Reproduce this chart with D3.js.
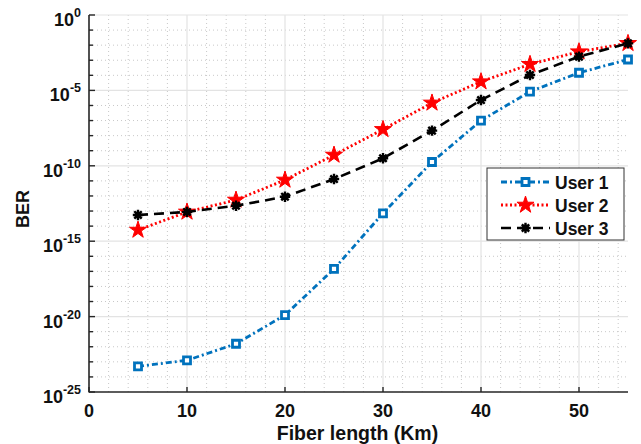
<!DOCTYPE html>
<html>
<head>
<meta charset="utf-8">
<script src="https://cdn.jsdelivr.net/npm/d3@7"></script>
<style>
  body { margin: 0; background: #fff; }
  svg { display: block; font-family: "Liberation Sans", Arial, sans-serif; font-weight: bold; }
</style>
</head>
<body>
<svg id="chart"></svg>
<script>
// data
const fiberLength = [5, 10, 15, 20, 25, 30, 35, 40, 45, 50, 55];
const user1 = [5.0e-24, 1.26e-23, 1.58e-22, 1.26e-20, 1.45e-17, 7.1e-14, 1.78e-10, 1.0e-7, 8.3e-6, 1.48e-4, 1.12e-3];
const user2 = [5.5e-15, 8.7e-14, 5.4e-13, 1.15e-11, 5.2e-10, 2.6e-8, 1.48e-6, 3.8e-5, 5.4e-4, 3.7e-3, 1.32e-2];
const user3 = [5.5e-14, 8.7e-14, 2.24e-13, 8.9e-13, 1.32e-11, 3.16e-10, 2.14e-8, 2.3e-6, 1.05e-4, 1.74e-3, 1.32e-2];
const seriesNames = ['User 1', 'User 2', 'User 3'];
const xTicks = [0, 10, 20, 30, 40, 50];
const yExponents = [0, -5, -10, -15, -20, -25];

const width = 641, height = 444;
const plotL = 89, plotR = 628, plotT = 15, plotB = 392;

let svg = d3.select('#chart').attr('width', width).attr('height', height);

let x = d3.scaleLinear().domain([0, 55]).range([plotL, plotR]);
let y = d3.scaleLog().domain([1e-25, 1]).range([plotB, plotT]);

// grid
let grid = svg.append('g');
let minorX = d3.range(2, 55, 2).filter(v => v % 10 !== 0);
let decades = d3.range(-25, 1);
grid.selectAll('.mx').data(minorX).enter().append('line')
    .attr('x1', d => x(d)).attr('x2', d => x(d))
    .attr('y1', plotT).attr('y2', plotB)
    .attr('stroke', '#c8c8c8').attr('stroke-width', 1).attr('stroke-dasharray', '1,3');
grid.selectAll('.my').data(decades.filter(d => d % 5 !== 0)).enter().append('line')
    .attr('x1', plotL).attr('x2', plotR)
    .attr('y1', d => y(Math.pow(10, d))).attr('y2', d => y(Math.pow(10, d)))
    .attr('stroke', '#c8c8c8').attr('stroke-width', 1).attr('stroke-dasharray', '1,3');
grid.selectAll('.Mx').data(xTicks.filter(d => d > 0)).enter().append('line')
    .attr('x1', d => x(d)).attr('x2', d => x(d))
    .attr('y1', plotT).attr('y2', plotB)
    .attr('stroke', '#e3e3e3').attr('stroke-width', 1.2);
grid.selectAll('.My').data(yExponents.filter(d => d > -25)).enter().append('line')
    .attr('x1', plotL).attr('x2', plotR)
    .attr('y1', d => y(Math.pow(10, d))).attr('y2', d => y(Math.pow(10, d)))
    .attr('stroke', '#e3e3e3').attr('stroke-width', 1.2);

// axes
let axisG = svg.append('g');
axisG.append('line').attr('x1', plotL).attr('x2', plotL).attr('y1', plotT).attr('y2', plotB + 0.5)
    .attr('stroke', '#262626').attr('stroke-width', 1.6);
axisG.append('line').attr('x1', plotL).attr('x2', plotR).attr('y1', plotB).attr('y2', plotB)
    .attr('stroke', '#262626').attr('stroke-width', 1.6);
axisG.selectAll('.yt').data(decades).enter().append('line')
    .attr('x1', plotL).attr('x2', d => plotL + (d % 5 === 0 ? 6 : 4))
    .attr('y1', d => y(Math.pow(10, d))).attr('y2', d => y(Math.pow(10, d)))
    .attr('stroke', '#262626').attr('stroke-width', 1.4);
axisG.selectAll('.xt').data(xTicks).enter().append('line')
    .attr('x1', d => x(d)).attr('x2', d => x(d))
    .attr('y1', plotB).attr('y2', plotB - 5)
    .attr('stroke', '#262626').attr('stroke-width', 1.4);

axisG.selectAll('.xl').data(xTicks).enter().append('text')
    .attr('x', d => x(d)).attr('y', 416.5)
    .attr('text-anchor', 'middle').attr('font-size', 18).attr('fill', '#111')
    .text(d => d);

let yl = axisG.selectAll('.yl').data(yExponents).enter().append('text')
    .attr('x', 81).attr('y', d => y(Math.pow(10, d)) + 11)
    .attr('text-anchor', 'end').attr('font-size', 18).attr('fill', '#111');
yl.append('tspan').text('10');
yl.append('tspan').attr('dy', -9).attr('font-size', 12.5).text(d => d === 0 ? '0' : '-' + Math.abs(d));

svg.append('text').attr('x', (plotL + plotR) / 2 - 1).attr('y', 440)
    .attr('text-anchor', 'middle').attr('font-size', 19.5).attr('fill', '#111')
    .text('Fiber length (Km)');
svg.append('text').attr('transform', 'translate(29,209) rotate(-90)')
    .attr('text-anchor', 'middle').attr('font-size', 18).attr('fill', '#111')
    .text('BER');

// series
const colors = ['#0072BD', '#ff0000', '#000000'];
const dashes = ['6,3,2,3', '2,2.5', '10,6'];
const widths = [2.8, 2.8, 2.6];
const allData = [user1, user2, user3];

let line = d3.line().x((d, i) => x(fiberLength[i])).y(d => y(d));
let plot = svg.append('g');

function drawMarker(g, k) {
    if (k === 0) {
        g.append('path').attr('d', d3.symbol(d3.symbolSquare, 49)())
            .attr('fill', '#fff').attr('stroke', colors[0]).attr('stroke-width', 2.8);
    } else if (k === 1) {
        g.append('path').attr('d', d3.symbol(d3.symbolStar, 90)())
            .attr('fill', colors[1]).attr('stroke', colors[1]).attr('stroke-width', 1);
    } else {
        g.append('circle').attr('r', 3.4).attr('fill', '#000');
        g.append('path').attr('d', 'M-5.2,0H5.2M0,-5.2V5.2M-3.7,-3.7L3.7,3.7M-3.7,3.7L3.7,-3.7')
            .attr('stroke', '#000').attr('stroke-width', 2.4).attr('fill', 'none');
    }
}

// user 1 first, then 2, then 3 on top
allData.forEach((vals, k) => {
    plot.append('path').datum(vals)
        .attr('d', line)
        .attr('fill', 'none')
        .attr('stroke', colors[k])
        .attr('stroke-width', widths[k])
        .attr('stroke-dasharray', dashes[k]);
    plot.selectAll('.m' + k).data(vals).enter().append('g')
        .attr('transform', (d, i) => 'translate(' + x(fiberLength[i]) + ',' + y(d) + ')')
        .each(function() { drawMarker(d3.select(this), k); });
});

// legend
let legend = svg.append('g').attr('transform', 'translate(487,168)');
legend.append('rect').attr('width', 137).attr('height', 72)
    .attr('fill', '#fff').attr('stroke', '#333').attr('stroke-width', 1);
seriesNames.forEach((name, k) => {
    let row = legend.append('g').attr('transform', 'translate(0,' + (14 + k * 23) + ')');
    row.append('line').attr('x1', 14).attr('x2', 63).attr('y1', 0).attr('y2', 0)
        .attr('stroke', colors[k]).attr('stroke-width', widths[k]).attr('stroke-dasharray', dashes[k]);
    drawMarker(row.append('g').attr('transform', 'translate(38.5,0)'), k);
    row.append('text').attr('x', 68).attr('y', 6.5).attr('font-size', 17.5)
        .attr('fill', '#111').text(name);
});
</script>
</body>
</html>
